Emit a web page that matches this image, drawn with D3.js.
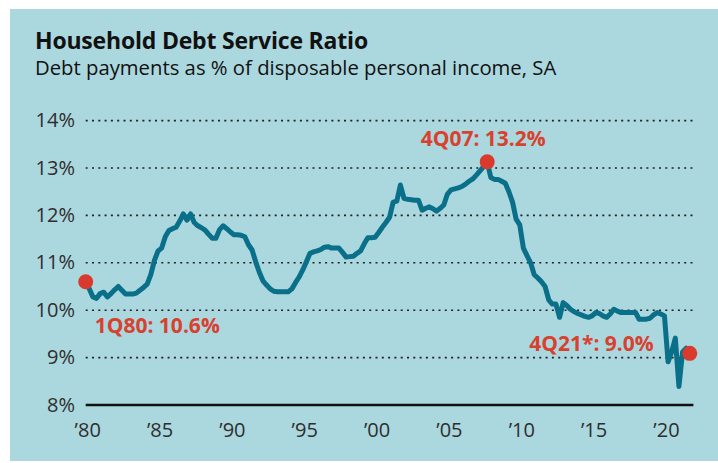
<!DOCTYPE html>
<meta charset="utf-8">
<script src="https://d3js.org/d3.v7.min.js"></script>
<style>
  body { margin: 0; background: #fff; }
  text { font-family: "Open Sans", sans-serif; }
</style>
<body>
<svg id="chart" width="718" height="463"></svg>
<script>
  // quarterly debt service ratio, one row per year (Q1..Q4)
  var years = d3.range(1980, 2022);
  var dsr = [
    [10.60, 10.45, 10.28, 10.25], // 1980
    [10.35, 10.38, 10.28, 10.35],
    [10.43, 10.50, 10.42, 10.34],
    [10.34, 10.34, 10.36, 10.42],
    [10.48, 10.55, 10.75, 11.05],
    [11.25, 11.31, 11.55, 11.68], // 1985
    [11.72, 11.75, 11.88, 12.03],
    [11.90, 12.03, 11.85, 11.78],
    [11.74, 11.69, 11.60, 11.52],
    [11.52, 11.70, 11.78, 11.72],
    [11.65, 11.59, 11.59, 11.58], // 1990
    [11.55, 11.38, 11.27, 11.02],
    [10.80, 10.62, 10.53, 10.45],
    [10.40, 10.39, 10.39, 10.39],
    [10.39, 10.45, 10.58, 10.70],
    [10.85, 11.02, 11.20, 11.23], // 1995
    [11.25, 11.28, 11.33, 11.34],
    [11.31, 11.31, 11.31, 11.22],
    [11.12, 11.13, 11.14, 11.20],
    [11.25, 11.40, 11.53, 11.53],
    [11.54, 11.64, 11.75, 11.85], // 2000
    [11.96, 12.28, 12.30, 12.64],
    [12.36, 12.34, 12.33, 12.32],
    [12.32, 12.11, 12.15, 12.18],
    [12.14, 12.09, 12.15, 12.22],
    [12.45, 12.54, 12.56, 12.58], // 2005
    [12.61, 12.66, 12.72, 12.77],
    [12.85, 12.94, 13.03, 13.13],
    [12.80, 12.76, 12.76, 12.72],
    [12.68, 12.50, 12.28, 11.92],
    [11.80, 11.31, 11.15, 11.00], // 2010
    [10.75, 10.68, 10.60, 10.50],
    [10.22, 10.13, 10.13, 9.85],
    [10.16, 10.10, 10.02, 9.97],
    [9.93, 9.90, 9.87, 9.85],
    [9.88, 9.95, 9.93, 9.88],     // 2015
    [9.85, 9.92, 10.02, 9.98],
    [9.95, 9.95, 9.95, 9.95],
    [9.95, 9.81, 9.81, 9.81],
    [9.83, 9.90, 9.95, 9.92],
    [9.88, 8.91, 9.12, 9.41],     // 2020
    [8.39, 9.12, 9.20, 9.09]
  ];

  var yTicks = [8, 9, 10, 11, 12, 13, 14];
  var xTicks = [1980, 1985, 1990, 1995, 2000, 2005, 2010, 2015, 2020];

  // highlighted quarters: [year, quarter index, label]
  var callouts = [
    [1980, 0, "1Q80: 10.6%"],
    [2007, 3, "4Q07: 13.2%"],
    [2021, 3, "4Q21*: 9.0%"]
  ];

  var points = [];
  years.forEach(function (yr, i) {
    dsr[i].forEach(function (v, q) {
      points.push({ t: yr + q / 4, v: v });
    });
  });

  var svg = d3.select("#chart");

  svg.append("rect")
    .attr("x", 10).attr("y", 9)
    .attr("width", 708).attr("height", 452)
    .attr("fill", "#abd7de");

  svg.append("text")
    .attr("x", 35).attr("y", 48.5)
    .style("font-size", "23px").style("font-weight", "bold")
    .style("letter-spacing", "-0.2px")
    .attr("fill", "#111")
    .text("Household Debt Service Ratio");

  svg.append("text")
    .attr("x", 35).attr("y", 75)
    .style("font-size", "20.3px")
    .attr("fill", "#111")
    .text("Debt payments as % of disposable personal income, SA");

  var x = d3.scaleLinear().domain([1980, 2022]).range([85.7, 693.4]);
  var y = d3.scaleLinear().domain([8, 14]).range([405, 120.6]);

  // dotted grid
  svg.append("g")
    .selectAll("line")
    .data(yTicks.slice(1))
    .enter().append("line")
    .attr("x1", x.range()[0]).attr("x2", x.range()[1])
    .attr("y1", function (d) { return y(d); })
    .attr("y2", function (d) { return y(d); })
    .attr("stroke", "#222")
    .attr("stroke-width", 1.6)
    .attr("stroke-dasharray", "2,4.3");

  // y labels
  svg.append("g")
    .selectAll("text")
    .data(yTicks)
    .enter().append("text")
    .attr("x", 75)
    .attr("y", function (d) { return y(d); })
    .attr("dy", "0.33em")
    .attr("text-anchor", "end")
    .attr("fill", "#2e2e2e")
    .style("font-size", "20px")
    .text(function (d) { return d + "%"; });

  // x labels
  svg.append("g")
    .selectAll("text")
    .data(xTicks)
    .enter().append("text")
    .attr("x", function (d) { return x(d) + 2; })
    .attr("y", 437)
    .attr("text-anchor", "middle")
    .attr("fill", "#2e2e2e")
    .style("font-size", "20px")
    .text(function (d) { return "\u2019" + String(d).slice(2); });

  // baseline
  svg.append("line")
    .attr("x1", x.range()[0]).attr("x2", x.range()[1])
    .attr("y1", y(8)).attr("y2", y(8))
    .attr("stroke", "#111")
    .attr("stroke-width", 2.6);

  var line = d3.line()
    .x(function (d) { return x(d.t); })
    .y(function (d) { return y(d.v); });

  svg.append("path")
    .datum(points)
    .attr("d", line)
    .attr("fill", "none")
    .attr("stroke", "#0a6f89")
    .attr("stroke-width", 5)
    .attr("stroke-linejoin", "round");

  // callout dots
  var marks = callouts.map(function (c) {
    return { t: c[0] + c[1] / 4, v: dsr[c[0] - 1980][c[1]], label: c[2] };
  });

  svg.append("g")
    .selectAll("circle")
    .data(marks)
    .enter().append("circle")
    .attr("cx", function (d) { return x(d.t); })
    .attr("cy", function (d) { return y(d.v); })
    .attr("r", 7.5)
    .attr("fill", "#d83b2d");

  var labelPos = [
    { dx: 9, dy: 51, anchor: "start" },
    { dx: -4, dy: -16, anchor: "middle" },
    { dx: -36, dy: -2, anchor: "end" }
  ];

  svg.append("g")
    .selectAll("text")
    .data(marks)
    .enter().append("text")
    .attr("x", function (d, i) { return x(d.t) + labelPos[i].dx; })
    .attr("y", function (d, i) { return y(d.v) + labelPos[i].dy; })
    .attr("text-anchor", function (d, i) { return labelPos[i].anchor; })
    .attr("fill", "#d9412f")
    .style("font-size", "21px")
    .style("font-weight", "bold")
    .text(function (d) { return d.label; });
</script>
</body>
